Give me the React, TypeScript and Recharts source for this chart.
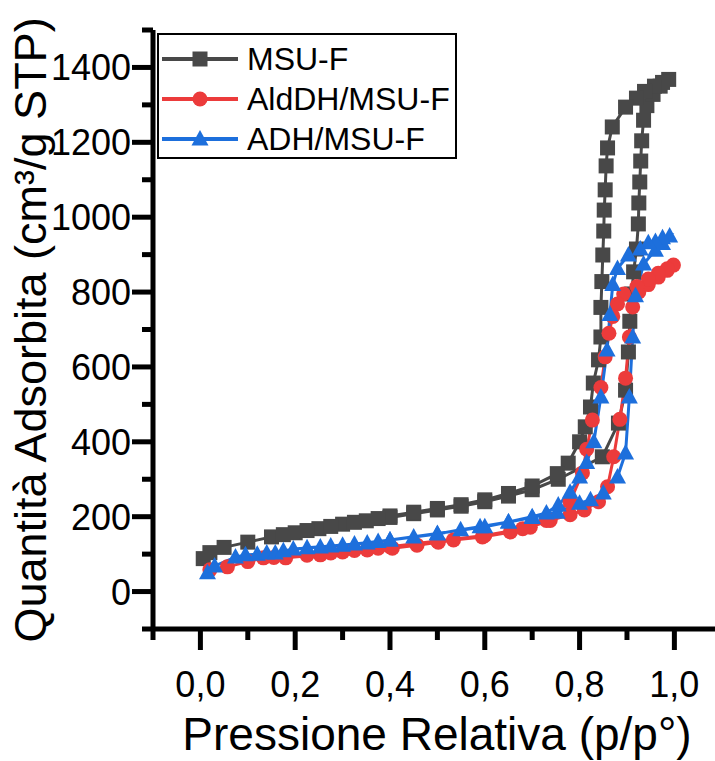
import { Line, LineChart, XAxis, YAxis } from "recharts";

// relative pressure (p/p°) and adsorbed volume (cm³/g STP), adsorption then desorption
const msuAdsP = [0.006, 0.02, 0.05, 0.1, 0.15, 0.2, 0.25, 0.3, 0.35, 0.4, 0.45, 0.5, 0.55, 0.6, 0.65, 0.7, 0.755, 0.848, 0.882, 0.897, 0.903, 0.906, 0.91, 0.914, 0.92, 0.924, 0.925, 0.927, 0.929, 0.931, 0.935, 0.942, 0.955, 0.97, 0.988];
const msuAdsV = [88, 104, 118, 132, 146, 157, 168, 180, 189, 198, 208, 218, 228, 240, 255, 272, 300, 360, 450, 538, 640, 722, 795, 854, 915, 982, 1038, 1094, 1150, 1204, 1259, 1298, 1328, 1350, 1368];
const msuDesP = [0.975, 0.958, 0.937, 0.92, 0.897, 0.869, 0.859, 0.856, 0.854, 0.852, 0.851, 0.849, 0.847, 0.845, 0.845, 0.84, 0.829, 0.823, 0.812, 0.8, 0.776, 0.753, 0.7, 0.65, 0.6, 0.55, 0.5, 0.45, 0.4, 0.375, 0.325, 0.275, 0.225, 0.175];
const msuDesV = [1360, 1350, 1336, 1318, 1294, 1241, 1185, 1137, 1073, 1019, 963, 899, 828, 759, 680, 619, 557, 493, 440, 400, 343, 315, 282, 262, 245, 232, 222, 212, 202, 195, 185, 174, 163, 152];

const aldAdsP = [0.02, 0.057, 0.1, 0.133, 0.18, 0.253, 0.3, 0.352, 0.405, 0.457, 0.502, 0.534, 0.595, 0.654, 0.696, 0.738, 0.78, 0.81, 0.84, 0.859, 0.872, 0.885, 0.897, 0.905, 0.912, 0.925, 0.945, 0.966, 0.985, 0.998];
const aldAdsV = [58, 66, 80, 90, 90, 98, 106, 111, 116, 124, 132, 138, 146, 159, 172, 190, 205, 218, 240, 280, 360, 460, 570, 680, 760, 800, 820, 840, 858, 872];
const aldDesP = [0.985, 0.966, 0.945, 0.921, 0.893, 0.88, 0.87, 0.862, 0.854, 0.845, 0.827, 0.815, 0.806, 0.78, 0.73, 0.68, 0.6, 0.5, 0.4, 0.375, 0.325, 0.275, 0.225, 0.155];
const aldDesV = [862, 850, 835, 815, 795, 768, 735, 690, 627, 545, 458, 380, 317, 240, 190, 168, 150, 135, 120, 116, 110, 103, 97, 91];

const adhAdsP = [0.015, 0.03, 0.074, 0.095, 0.12, 0.14, 0.158, 0.196, 0.253, 0.3, 0.352, 0.4, 0.45, 0.5, 0.549, 0.59, 0.65, 0.7, 0.753, 0.8, 0.823, 0.85, 0.88, 0.897, 0.905, 0.912, 0.918, 0.935, 0.96, 0.975, 0.99];
const adhAdsV = [50, 68, 92, 98, 100, 103, 103, 114, 119, 124, 130, 138, 146, 154, 165, 173, 186, 198, 212, 236, 245, 263, 306, 370, 520, 680, 790, 875, 912, 930, 950];
const adhDesP = [0.975, 0.96, 0.945, 0.928, 0.903, 0.88, 0.87, 0.864, 0.858, 0.845, 0.83, 0.815, 0.8, 0.78, 0.755, 0.73, 0.7, 0.65, 0.6, 0.5, 0.4, 0.375, 0.325, 0.275, 0.225, 0.175];
const adhDesV = [945, 935, 932, 915, 899, 863, 820, 740, 645, 520, 400, 345, 306, 265, 231, 210, 200, 186, 173, 155, 138, 134, 127, 122, 117, 109];

const xTicks = [-0.1, 0, 0.1, 0.2, 0.3, 0.4, 0.5, 0.6, 0.7, 0.8, 0.9, 1.0];
const yTicks = [-100, 0, 100, 200, 300, 400, 500, 600, 700, 800, 900, 1000, 1100, 1200, 1300, 1400, 1500];

const GRAY = "#484848";
const RED = "#ec3b3b";
const BLUE = "#1d6fdc";
const FONT = '"Liberation Sans", Arial, sans-serif';

const PLOT_LEFT = 153;
const PLOT_BOTTOM = 629;

const toPoints = (ap: number[], av: number[], dp: number[], dv: number[]) =>
  [...ap, ...dp].map((p, i) => ({ p, v: i < ap.length ? av[i] : dv[i - ap.length] }));

const msuData = toPoints(msuAdsP, msuAdsV, msuDesP, msuDesV);
const aldData = toPoints(aldAdsP, aldAdsV, aldDesP, aldDesV);
const adhData = toPoints(adhAdsP, adhAdsV, adhDesP, adhDesV);

function Marker({ shape, cx, cy, color }: { shape: string; cx: number; cy: number; color: string }) {
  if (shape === "square") return <rect x={cx - 7.5} y={cy - 7.5} width={15} height={15} fill={color} />;
  if (shape === "circle") return <circle cx={cx} cy={cy} r={7.5} fill={color} />;
  return <polygon points={`${cx},${cy - 9} ${cx - 8.5},${cy + 6.5} ${cx + 8.5},${cy + 6.5}`} fill={color} />;
}

const dotFor = (shape: string, color: string) => (props: any) => (
  <Marker key={`${shape}-${props.index}`} shape={shape} cx={props.cx} cy={props.cy} color={color} />
);

function XTick(props: any) {
  const { x, payload } = props;
  const step = Math.round(payload.value * 10);
  const major = step % 2 === 0;
  return (
    <g>
      <line x1={x} x2={x} y1={PLOT_BOTTOM} y2={PLOT_BOTTOM + (major ? 21 : 11)} stroke="#000" strokeWidth={5} />
      {major && (
        <text x={x} y={697} textAnchor="middle" fontSize={36} fontFamily={FONT} fill="#000">
          {payload.value.toFixed(1).replace(".", ",")}
        </text>
      )}
    </g>
  );
}

function YTick(props: any) {
  const { y, payload } = props;
  const v = payload.value;
  const major = v % 200 === 0 && v >= 0 && v <= 1400;
  return (
    <g>
      <line x1={PLOT_LEFT} x2={PLOT_LEFT - (major ? 21 : 11)} y1={y} y2={y} stroke="#000" strokeWidth={5} />
      {major && (
        <text x={131} y={y + 13} textAnchor="end" fontSize={36} fontFamily={FONT} fill="#000">
          {v}
        </text>
      )}
    </g>
  );
}

const legendItems = [
  { name: "MSU-F", shape: "square", color: GRAY },
  { name: "AldDH/MSU-F", shape: "circle", color: RED },
  { name: "ADH/MSU-F", shape: "triangle", color: BLUE },
];

export default function App() {
  return (
    <div style={{ position: "absolute", left: 0, top: 0, width: 715, height: 761, background: "#fff", fontFamily: FONT }}>
      <LineChart width={715} height={761} margin={{ top: 30, right: 0, bottom: 0, left: 0 }}>
        <XAxis
          dataKey="p"
          type="number"
          domain={[-0.1, 1.0857]}
          ticks={xTicks}
          interval={0}
          height={132}
          tickLine={false}
          axisLine={{ stroke: "#000", strokeWidth: 5 }}
          tick={(p: any) => <XTick {...p} />}
          allowDataOverflow
        />
        <YAxis
          dataKey="v"
          type="number"
          domain={[-100, 1500]}
          ticks={yTicks}
          interval={0}
          width={153}
          tickLine={false}
          axisLine={{ stroke: "#000", strokeWidth: 5 }}
          tick={(p: any) => <YTick {...p} />}
          allowDataOverflow
        />
        <Line data={msuData} dataKey="v" name="MSU-F" stroke={GRAY} strokeWidth={3} dot={dotFor("square", GRAY)} activeDot={false} isAnimationActive={false} />
        <Line data={aldData} dataKey="v" name="AldDH/MSU-F" stroke={RED} strokeWidth={3} dot={dotFor("circle", RED)} activeDot={false} isAnimationActive={false} />
        <Line data={adhData} dataKey="v" name="ADH/MSU-F" stroke={BLUE} strokeWidth={3} dot={dotFor("triangle", BLUE)} activeDot={false} isAnimationActive={false} />
      </LineChart>

      <div style={{ position: "absolute", left: 0, top: 330, width: 0, height: 0 }}>
        <div
          style={{
            position: "absolute",
            left: 30,
            top: 0,
            transform: "translate(-50%, -50%) rotate(-90deg)",
            whiteSpace: "nowrap",
            fontSize: 45,
            lineHeight: 1,
          }}
        >
          Quantità Adsorbita (cm³/g STP)
        </div>
      </div>
      <div
        style={{
          position: "absolute",
          left: 0,
          width: 874,
          top: 711,
          textAlign: "center",
          fontSize: 46,
          lineHeight: 1,
          whiteSpace: "nowrap",
        }}
      >
        Pressione Relativa (p/p°)
      </div>

      <div
        style={{
          position: "absolute",
          left: 157,
          top: 33,
          width: 300,
          height: 126,
          boxSizing: "border-box",
          border: "2px solid #000",
          background: "#fff",
          paddingTop: 4,
        }}
      >
        {legendItems.map((it) => (
          <div key={it.name} style={{ display: "flex", alignItems: "center", height: 40 }}>
            <svg width={84} height={30} style={{ flex: "none" }}>
              <line x1={3} x2={79} y1={15} y2={15} stroke={it.color} strokeWidth={4} />
              <Marker shape={it.shape} cx={41} cy={15} color={it.color} />
            </svg>
            <span style={{ fontSize: 32, marginLeft: 4, color: "#000" }}>{it.name}</span>
          </div>
        ))}
      </div>
    </div>
  );
}
